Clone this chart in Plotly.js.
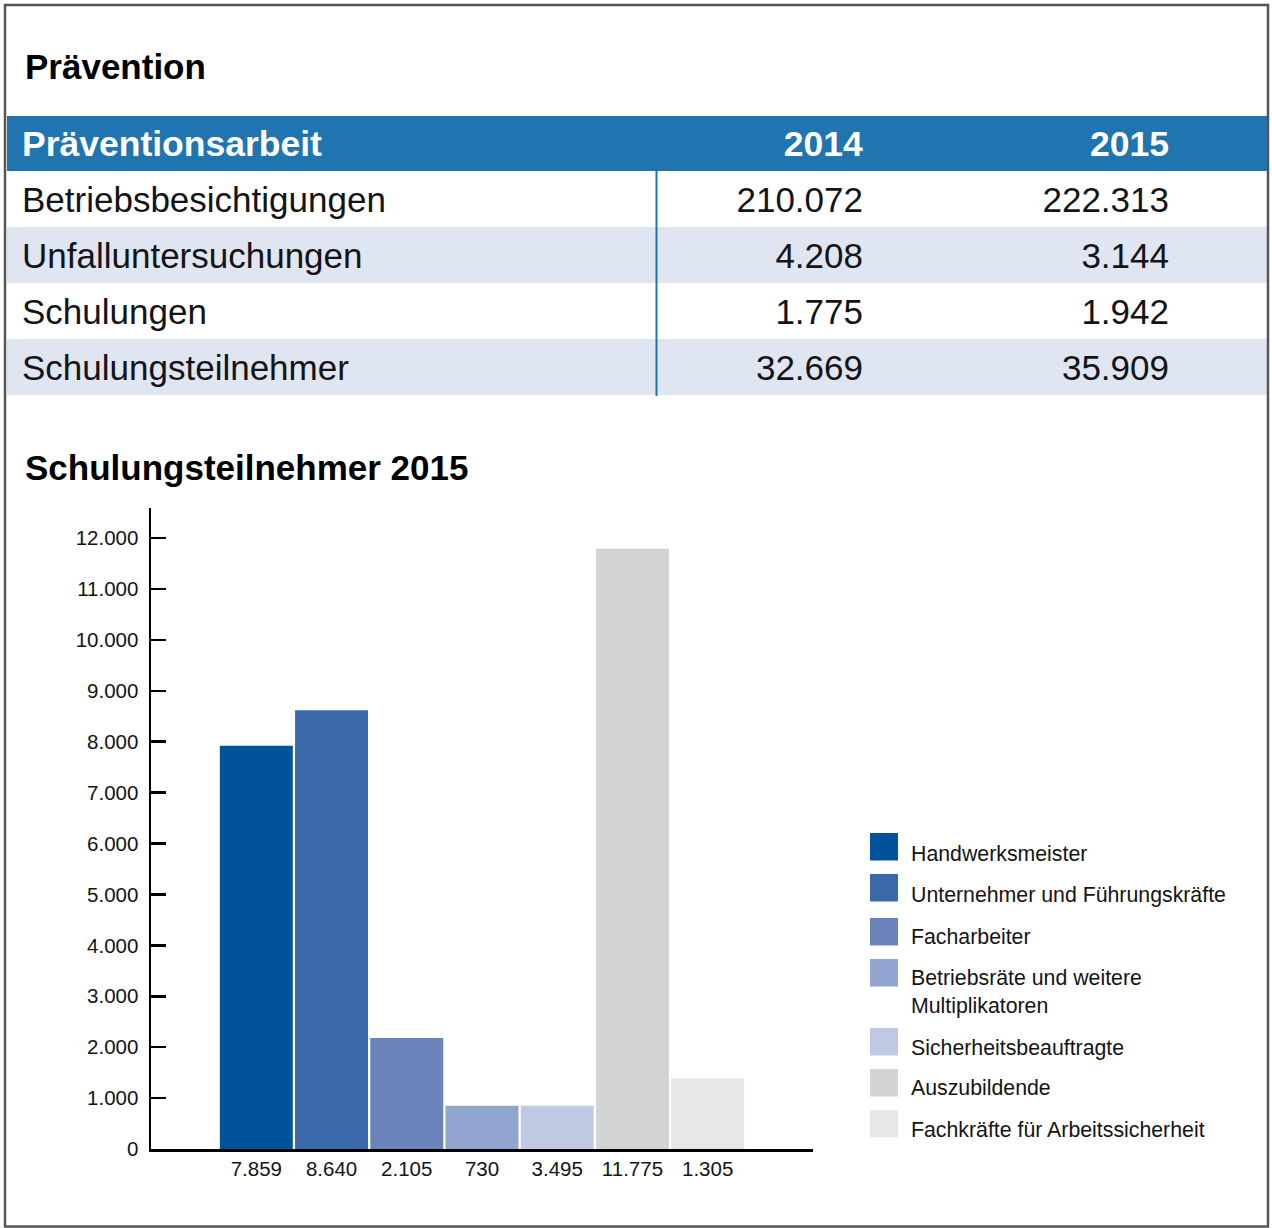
<!DOCTYPE html>
<html>
<head>
<meta charset="utf-8">
<script src="https://cdn.plot.ly/plotly-3.0.1.min.js"></script>
<style>
  html, body { margin: 0; padding: 0; background: #ffffff; }
  #chart { width: 1272px; height: 1228px; }
</style>
</head>
<body>
<div id="chart"></div>
<script>
// ---------- data ----------
const tableHeader = ['Präventionsarbeit', '2014', '2015'];
const rowLabels = ['Betriebsbesichtigungen', 'Unfalluntersuchungen', 'Schulungen', 'Schulungsteilnehmer'];
const values2014 = [210072, 4208, 1775, 32669];
const values2015 = [222313, 3144, 1942, 35909];

const categories = [
  'Handwerksmeister',
  'Unternehmer und Führungskräfte',
  'Facharbeiter',
  'Betriebsräte und weitere<br>Multiplikatoren',
  'Sicherheitsbeauftragte',
  'Auszubildende',
  'Fachkräfte für Arbeitssicherheit'
];
const barLabels = [7859, 8640, 2105, 730, 3495, 11775, 1305];
const barHeights = [7920, 8620, 2180, 850, 850, 11790, 1390];

// ---------- styles ----------
const barColors = ['#00529b', '#3b69ab', '#6a83bb', '#91a3cf', '#c0c9e3', '#d1d3d5', '#e6e7e9'];
const W = 1272, H = 1228;
const FONT = 'Liberation Sans, Arial, sans-serif';
const TXT = '#141414';
const BLUE = '#2074b0';
const ROWFILL = '#dfe5f1';
const px = x => x / W;
const py = y => 1 - y / H;
const fmt = n => String(n).replace(/\B(?=(\d{3})+(?!\d))/g, '.');

const TABLE_TOP = 116, ROW_H = 56;
const HEADER_SHIFT = 0, BODY_SHIFT = -10;
const colWidths = [7, 642, 215, 306, 90];
const colAlign = ['left', 'left', 'right', 'right', 'left'];
const clear = 'rgba(0,0,0,0)';
const blank = rowLabels.map(() => '');

// ---------- table: header row ----------
const headerTrace = {
  type: 'table',
  domain: { x: [px(7), px(1267)], y: [py(TABLE_TOP + HEADER_SHIFT + ROW_H + 4), py(TABLE_TOP + HEADER_SHIFT)] },
  columnwidth: colWidths,
  header: {
    values: ['', '<b>' + tableHeader[0] + '</b>', '<b>' + tableHeader[1] + '</b>', '<b>' + tableHeader[2] + '</b>', ''],
    align: colAlign,
    height: ROW_H,
    fill: { color: clear },
    line: { width: 0, color: clear },
    font: { family: FONT, size: 35.5, color: '#ffffff' }
  },
  cells: { values: [], height: 0, fill: { color: clear }, line: { width: 0, color: clear } }
};

// ---------- table: body rows ----------
const bodyTop = TABLE_TOP + ROW_H + BODY_SHIFT;
const bodyTrace = {
  type: 'table',
  domain: { x: [px(7), px(1267)], y: [py(bodyTop + ROW_H * rowLabels.length + 30), py(bodyTop)] },
  columnwidth: colWidths,
  header: { values: [], height: 0, fill: { color: clear }, line: { width: 0, color: clear } },
  cells: {
    values: [blank, rowLabels, values2014.map(fmt), values2015.map(fmt), blank],
    align: colAlign,
    height: ROW_H,
    fill: { color: clear },
    line: { width: 0, color: clear },
    font: { family: FONT, size: 35, color: TXT }
  }
};

// ---------- bars ----------
const barTrace = {
  type: 'bar',
  x: barLabels.map(fmt),
  y: barHeights,
  width: 0.97,
  marker: { color: barColors, line: { width: 0 } },
  showlegend: false,
  hoverinfo: 'skip',
  xaxis: 'x',
  yaxis: 'y'
};

const shapes = [];
const annotations = [];

// table backgrounds (header band + alternating rows)
shapes.push({
  type: 'rect', xref: 'paper', yref: 'paper', layer: 'below',
  x0: px(7), x1: px(1267), y0: py(TABLE_TOP + ROW_H - 1), y1: py(TABLE_TOP),
  fillcolor: BLUE, line: { width: 0 }
});
rowLabels.forEach((_, i) => {
  if (i % 2 === 1) {
    const top = TABLE_TOP + ROW_H * (i + 1) - 1;
    shapes.push({
      type: 'rect', xref: 'paper', yref: 'paper', layer: 'below',
      x0: px(7), x1: px(1267), y0: py(top + ROW_H), y1: py(top),
      fillcolor: ROWFILL, line: { width: 0 }
    });
  }
});

// ---------- manual legend ----------
const legendTops = [833, 874, 918, 959, 1028, 1069, 1110];
const legendTextY = [854, 895, 937, 992, 1048, 1088, 1130];

categories.forEach((c, i) => {
  shapes.push({
    type: 'rect', xref: 'paper', yref: 'paper',
    x0: px(870), x1: px(898), y0: py(legendTops[i] + 27.5), y1: py(legendTops[i]),
    fillcolor: barColors[i], line: { width: 0 }
  });
  annotations.push({
    xref: 'paper', yref: 'paper', x: px(909), y: py(legendTextY[i]),
    xanchor: 'left', yanchor: 'middle', align: 'left', showarrow: false,
    text: c, font: { family: FONT, size: 21.3, color: TXT }
  });
});

// divider line in table
shapes.push({
  type: 'line', xref: 'paper', yref: 'paper',
  x0: px(656.5), x1: px(656.5), y0: py(396), y1: py(171),
  line: { color: BLUE, width: 2 }
});
// outer frame
shapes.push({
  type: 'rect', xref: 'paper', yref: 'paper',
  x0: px(5), x1: px(1268), y0: py(1226.5), y1: py(5),
  line: { color: '#555555', width: 2.5 }, fillcolor: 'rgba(0,0,0,0)'
});

// titles
annotations.push({
  xref: 'paper', yref: 'paper', x: px(23), y: py(66),
  xanchor: 'left', yanchor: 'middle', showarrow: false,
  text: '<b>Prävention</b>', font: { family: FONT, size: 35, color: '#000000' }
});
annotations.push({
  xref: 'paper', yref: 'paper', x: px(23), y: py(468),
  xanchor: 'left', yanchor: 'middle', showarrow: false,
  text: '<b>Schulungsteilnehmer 2015</b>', font: { family: FONT, size: 35, color: '#000000' }
});

const layout = {
  width: W, height: H,
  margin: { l: 0, r: 0, t: 0, b: 0, pad: 0 },
  paper_bgcolor: '#ffffff',
  plot_bgcolor: 'rgba(0,0,0,0)',
  separators: ',.',
  showlegend: false,
  font: { family: FONT, color: TXT },
  xaxis: {
    domain: [px(151), px(813)],
    type: 'category',
    range: [-1.40, 7.40],
    showline: true, linecolor: '#000000', linewidth: 2.5,
    ticks: '', showgrid: false, zeroline: false,
    tickfont: { family: FONT, size: 20.5, color: TXT },
    fixedrange: true
  },
  yaxis: {
    domain: [py(1149), py(508)],
    range: [0, 12590],
    dtick: 1000, tick0: 0,
    tickformat: ',d',
    showline: true, linecolor: '#000000', linewidth: 2.5,
    ticks: 'inside', ticklen: 15, tickwidth: 2.5, tickcolor: '#000000',
    ticklabelstandoff: 6,
    showgrid: false, zeroline: false,
    tickfont: { family: FONT, size: 20.5, color: TXT },
    fixedrange: true
  },
  shapes: shapes,
  annotations: annotations
};

Plotly.newPlot('chart', [headerTrace, bodyTrace, barTrace], layout, { displayModeBar: false, staticPlot: true });
</script>
</body>
</html>
